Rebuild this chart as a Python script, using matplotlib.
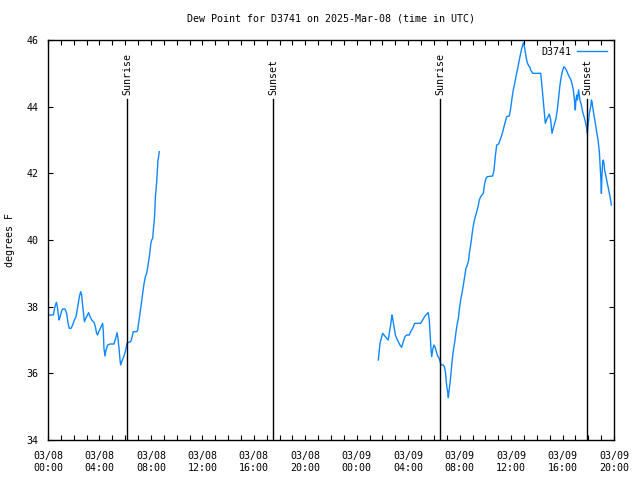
import numpy as np
import matplotlib
matplotlib.use('Agg')
import matplotlib.pyplot as plt

# hours since 2025-03-08 00:00 UTC, dew point in F
hours_a = [0.08, 0.41, 0.54, 0.65, 0.73, 0.86, 0.93, 1.04, 1.14, 1.32,
           1.45, 1.56, 1.66, 1.79, 1.92, 2.05, 2.18, 2.31, 2.44, 2.54,
           2.62, 2.70, 2.83, 2.93, 3.06, 3.16, 3.27, 3.40, 3.58, 3.68,
           3.78, 3.86, 3.94, 4.04, 4.15, 4.25, 4.30, 4.35, 4.43, 4.51,
           4.64, 4.82, 5.13, 5.26, 5.37, 5.44, 5.52, 5.60, 5.65, 5.78,
           5.91, 6.04, 6.14, 6.27, 6.43, 6.51, 6.63, 6.90, 6.97, 7.08,
           7.15, 7.26, 7.36, 7.47, 7.57, 7.67, 7.78, 7.88, 7.99, 8.06,
           8.14, 8.19, 8.24, 8.30, 8.35, 8.40, 8.45, 8.50, 8.55, 8.60, 8.65]
dew_a = [37.75, 37.75, 38.0, 38.13, 37.98, 37.6, 37.67, 37.85, 37.93, 37.93,
         37.8, 37.5, 37.35, 37.35, 37.45, 37.6, 37.7, 38.0, 38.3, 38.45,
         38.35, 38.0, 37.55, 37.65, 37.75, 37.82, 37.7, 37.6, 37.53, 37.4,
         37.2, 37.15, 37.25, 37.32, 37.42, 37.5, 37.25, 36.75, 36.52, 36.7,
         36.85, 36.88, 36.88, 37.05, 37.22, 37.05, 36.75, 36.4, 36.25, 36.4,
         36.52, 36.7, 36.9, 36.93, 36.95, 37.05, 37.25, 37.25, 37.3, 37.6,
         37.8, 38.1, 38.4, 38.7, 38.9, 39.0, 39.25, 39.5, 39.88, 40.0,
         40.05, 40.3, 40.5, 40.8, 41.3, 41.5, 41.75, 42.1, 42.4, 42.5, 42.65]

hours_b = [25.68, 25.81, 25.94, 26.02, 26.12, 26.33, 26.45, 26.53, 26.64, 26.74,
           26.79, 26.90, 27.00, 27.11, 27.23, 27.36, 27.49, 27.62, 27.75, 27.88,
           28.09, 28.19, 28.35, 28.50, 28.97, 29.12, 29.31, 29.49, 29.56, 29.64,
           29.70, 29.77, 29.83, 29.90, 30.00, 30.08, 30.16, 30.26, 30.40, 30.47,
           30.55, 30.73, 30.81, 30.89, 30.96, 31.02, 31.07, 31.12, 31.17, 31.25,
           31.33, 31.41, 31.48, 31.56, 31.64, 31.72, 31.82, 31.90, 31.97, 32.08,
           32.18, 32.29, 32.39, 32.49, 32.60, 32.70, 32.75, 32.86, 32.94, 33.01,
           33.12, 33.22, 33.33, 33.43, 33.53, 33.64, 33.74, 33.84, 33.95, 34.05,
           34.15, 34.57, 34.67, 34.72, 34.77, 34.83, 34.88, 35.03, 35.14, 35.24,
           35.35, 35.45, 35.55, 35.66, 35.86, 35.97, 36.07, 36.17, 36.28, 36.38,
           36.49, 36.59, 36.69, 36.80, 36.90, 36.95, 37.06, 37.16, 37.26, 37.37,
           37.47, 37.52, 37.68, 38.30, 38.38, 38.46, 38.56, 38.66, 38.77, 38.87,
           38.97, 39.08, 39.18, 39.28, 39.39, 39.49, 39.59, 39.70, 39.80, 39.90,
           40.01, 40.11, 40.21, 40.32, 40.42, 40.52, 40.63, 40.73, 40.84, 40.94,
           40.99, 41.04, 41.10, 41.15, 41.20, 41.25, 41.30, 41.35, 41.46, 41.56,
           41.67, 41.77, 41.88, 41.93, 41.98, 42.03, 42.08, 42.13, 42.19, 42.24,
           42.29, 42.34, 42.44, 42.55, 42.65, 42.76, 42.86, 42.91, 42.97, 43.02,
           43.07, 43.12, 43.17, 43.22, 43.27, 43.38, 43.48, 43.59, 43.69, 43.79]
dew_b = [36.4, 36.9, 37.1, 37.2, 37.15, 37.05, 37.0, 37.2, 37.45, 37.75,
         37.65, 37.4, 37.15, 37.05, 36.95, 36.85, 36.78, 36.95, 37.1, 37.15,
         37.15, 37.25, 37.35, 37.5, 37.5, 37.6, 37.72, 37.8, 37.82, 37.6,
         37.2, 36.75, 36.5, 36.7, 36.85, 36.8, 36.7, 36.55, 36.45, 36.38,
         36.25, 36.25, 36.2, 36.05, 35.75, 35.55, 35.45, 35.27, 35.45, 35.7,
         36.0, 36.35, 36.6, 36.8, 37.0, 37.25, 37.5, 37.65, 37.9, 38.2,
         38.4, 38.65, 38.9, 39.15, 39.25, 39.4, 39.6, 39.85, 40.1, 40.3,
         40.55, 40.7, 40.85, 41.0, 41.2, 41.3, 41.35, 41.4, 41.7, 41.85,
         41.9, 41.92, 42.1, 42.3, 42.5, 42.7, 42.85, 42.88, 43.0, 43.1,
         43.25, 43.4, 43.55, 43.7, 43.72, 43.95, 44.25, 44.5, 44.7, 44.9,
         45.1, 45.3, 45.5, 45.7, 45.85, 45.92, 45.75, 45.5, 45.32, 45.22,
         45.18, 45.1, 45.0, 45.0, 44.7, 44.35, 43.9, 43.5, 43.62, 43.7,
         43.78, 43.6, 43.2, 43.35, 43.5, 43.65, 43.9, 44.3, 44.65, 44.9,
         45.1, 45.2, 45.15, 45.08, 44.98, 44.9, 44.82, 44.7, 44.5, 44.15,
         43.9, 44.2, 44.35, 44.2, 44.35, 44.5, 44.35, 44.2, 44.05, 43.85,
         43.7, 43.55, 43.35, 43.2, 43.45, 43.6, 43.8, 43.9, 44.0, 44.2,
         44.15, 44.0, 43.75, 43.5, 43.25, 43.0, 42.65, 42.3, 41.9, 41.4,
         42.0, 42.35, 42.4, 42.3, 42.1, 41.9, 41.7, 41.5, 41.3, 41.05]

sun_hours = [6.15, 17.5, 30.48, 41.93]
sun_names = ['Sunrise', 'Sunset', 'Sunrise', 'Sunset']

tick_hours = list(range(0, 45, 4))
tick_labels = ['03/08\n00:00', '03/08\n04:00', '03/08\n08:00', '03/08\n12:00',
               '03/08\n16:00', '03/08\n20:00', '03/09\n00:00', '03/09\n04:00',
               '03/09\n08:00', '03/09\n12:00', '03/09\n16:00', '03/09\n20:00']

font = 'DejaVu Sans Mono'
fs = 7.2
plt.rcParams['font.family'] = font
plt.rcParams['font.size'] = fs

fig = plt.figure(figsize=(6.4, 4.8), dpi=100)
ax = fig.add_axes([48/640, 40/480, 566/640, 400/480])

x = np.concatenate([hours_a, [np.nan], hours_b])
y = np.concatenate([dew_a, [np.nan], dew_b])
ax.plot(x, y, color='#0f87ff', lw=1.0, label='D3741')

for h, name in zip(sun_hours, sun_names):
    ax.plot([h, h], [34, 44.22], color='black', lw=1.0)
    ax.text(h, 44.35, name, rotation=90, ha='center', va='bottom', fontsize=fs)

ax.set_xlim(0, 44)
ax.set_ylim(34, 46)
ax.set_xticks(tick_hours)
ax.set_xticklabels(tick_labels, linespacing=1.25)
ax.set_xticks(list(range(0, 45, 1)), minor=True)
ax.set_yticks(range(34, 47, 2))
ax.tick_params(which='both', direction='in', top=True, right=True,
               width=0.8, length=3.5, labelsize=fs)
ax.tick_params(axis='x', which='major', pad=8)
ax.tick_params(axis='y', which='major', pad=7)
for s in ax.spines.values():
    s.set_linewidth(1.0)

ax.set_ylabel('degrees F', fontsize=fs, labelpad=8)
ax.set_title('Dew Point for D3741 on 2025-Mar-08 (time in UTC)', fontsize=fs, pad=13)

leg = ax.legend(loc='upper right', frameon=False, fontsize=fs,
                markerfirst=False, handlelength=3.0, borderaxespad=0.3,
                handletextpad=0.6)

fig.savefig('out.png', dpi=100)
